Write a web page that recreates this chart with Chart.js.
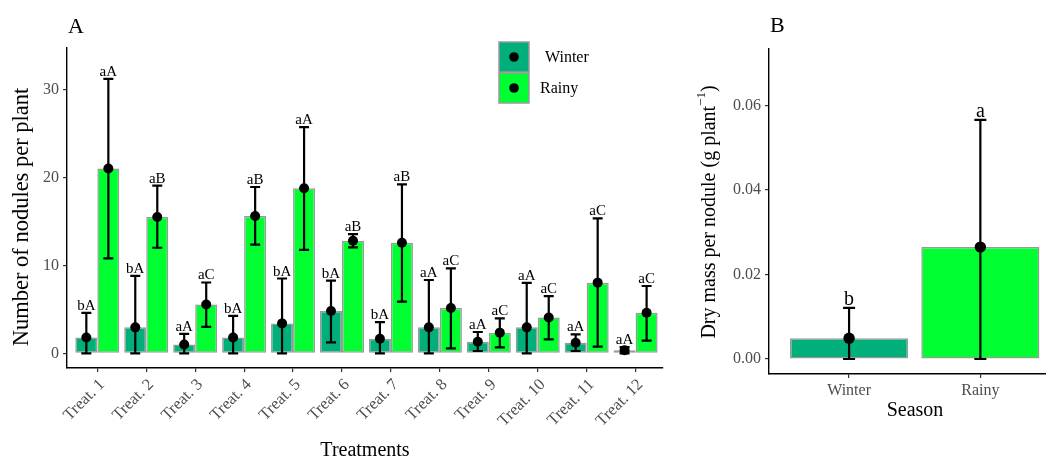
<!DOCTYPE html>
<html>
<head>
<meta charset="utf-8">
<script src="https://cdn.jsdelivr.net/npm/chart.js@4.4.0/dist/chart.umd.min.js"></script>
<style>
  html, body { margin: 0; padding: 0; background: #fff; }
  #wrap { position: relative; width: 1046px; height: 459px; overflow: hidden; }
  #chart-a { position: absolute; left: 0; top: 0; }
  #chart-b { position: absolute; left: 690px; top: 0; }
</style>
</head>
<body>
<div id="wrap">
  <canvas id="chart-a" width="690" height="459"></canvas>
  <canvas id="chart-b" width="356" height="459"></canvas>
</div>
<script>
// panel A - nodules per plant
const treatments = ["Treat. 1", "Treat. 2", "Treat. 3", "Treat. 4", "Treat. 5", "Treat. 6",
                    "Treat. 7", "Treat. 8", "Treat. 9", "Treat. 10", "Treat. 11", "Treat. 12"];
const winterMean = [1.8, 2.95, 1.0, 1.8, 3.4, 4.8, 1.65, 2.95, 1.32, 2.95, 1.2, 0.35];
const winterLow  = [0, 0, 0, 0, 0, 1.25, 0, 0, 0.26, 0, 0.26, 0];
const winterHigh = [4.6, 8.8, 2.2, 4.25, 8.5, 8.25, 3.55, 8.33, 2.42, 8.0, 2.15, 0.7];
const rainyMean  = [21.0, 15.5, 5.55, 15.6, 18.75, 12.8, 12.57, 5.15, 2.35, 4.07, 8.03, 4.6];
const rainyLow   = [10.8, 12.0, 3.0, 12.35, 11.75, 12.05, 5.87, 0.55, 0.68, 1.58, 0.75, 1.43];
const rainyHigh  = [31.2, 19.05, 8.05, 18.9, 25.7, 13.55, 19.2, 9.65, 3.97, 6.5, 15.33, 7.65];
const winterLetters = ["bA", "bA", "aA", "bA", "bA", "bA", "bA", "aA", "aA", "aA", "aA", "aA"];
const rainyLetters  = ["aA", "aB", "aC", "aB", "aA", "aB", "aB", "aC", "aC", "aC", "aC", "aC"];
const yTicksA = [0, 10, 20, 30];

// panel B - dry mass per nodule
const seasons = ["Winter", "Rainy"];
const massMean = [0.0049, 0.0265];
const massLow  = [0, 0];
const massHigh = [0.0121, 0.0566];
const massLetters = ["b", "a"];
const yTicksB = [0, 0.02, 0.04, 0.06];

const serif = "'Liberation Serif', 'Times New Roman', serif";
const winterColor = "#00AF7A";
const rainyColor = "#00FF30";
const outline = "#9A9A9A";
const tickGrey = "#4D4D4D";

// error bars, mean points and letters on top of the bars
function errorBars(lows, highs, letters, cap, radius) {
  return {
    id: "errorBars",
    afterDatasetsDraw(chart) {
      const ctx = chart.ctx;
      const y = chart.scales.y;
      chart.data.datasets.forEach((ds, d) => {
        chart.getDatasetMeta(d).data.forEach((bar, i) => {
          const yl = y.getPixelForValue(lows[d][i]);
          const yh = y.getPixelForValue(highs[d][i]);
          ctx.save();
          ctx.strokeStyle = "#000";
          ctx.lineWidth = 2.2;
          ctx.beginPath();
          ctx.moveTo(bar.x, yl); ctx.lineTo(bar.x, yh);
          ctx.moveTo(bar.x - cap, yl); ctx.lineTo(bar.x + cap, yl);
          ctx.moveTo(bar.x - cap, yh); ctx.lineTo(bar.x + cap, yh);
          ctx.stroke();
          ctx.fillStyle = "#000";
          ctx.beginPath();
          ctx.arc(bar.x, bar.y, radius, 0, Math.PI * 2);
          ctx.fill();
          ctx.font = letters.size + "px " + serif;
          ctx.textAlign = "center";
          ctx.textBaseline = "alphabetic";
          ctx.fillText(letters.text[d][i], bar.x, yh - letters.gap);
          ctx.restore();
        });
      });
    }
  };
}

const decorA = {
  id: "decorA",
  afterDraw(chart) {
    const ctx = chart.ctx;
    ctx.save();
    ctx.fillStyle = "#000";
    ctx.font = "22px " + serif;
    ctx.textAlign = "left";
    ctx.textBaseline = "alphabetic";
    ctx.fillText("A", 68, 33);

    ctx.font = "20px " + serif;
    ctx.textAlign = "center";
    ctx.textBaseline = "middle";
    ctx.fillText("Treatments", 365, 451);
    ctx.save();
    ctx.translate(22, 217);
    ctx.rotate(-Math.PI / 2);
    ctx.font = "22.5px " + serif;
    ctx.fillText("Number of nodules per plant", 0, 0);
    ctx.restore();

    // legend
    const items = [["Winter", winterColor, 42, 545], ["Rainy", rainyColor, 73, 540]];
    items.forEach(([label, color, top, tx]) => {
      ctx.fillStyle = color;
      ctx.fillRect(499, top, 30, 30);
      ctx.strokeStyle = outline;
      ctx.lineWidth = 1.5;
      ctx.strokeRect(499, top, 30, 30);
      ctx.fillStyle = "#000";
      ctx.beginPath();
      ctx.arc(514, top + 15, 4.8, 0, Math.PI * 2);
      ctx.fill();
      ctx.font = "16px " + serif;
      ctx.textAlign = "left";
      ctx.fillText(label, tx, top + 16);
    });
    ctx.restore();
  }
};

const decorB = {
  id: "decorB",
  afterDraw(chart) {
    const ctx = chart.ctx;
    ctx.save();
    ctx.fillStyle = "#000";
    ctx.font = "22px " + serif;
    ctx.textBaseline = "alphabetic";
    ctx.fillText("B", 80, 32);

    ctx.font = "20px " + serif;
    ctx.textAlign = "center";
    ctx.textBaseline = "middle";
    ctx.fillText("Season", 225, 411);

    ctx.translate(20, 212);
    ctx.rotate(-Math.PI / 2);
    const main = "Dry mass per nodule (g plant";
    const sup = "\u22121";
    ctx.font = "20px " + serif;
    const wMain = ctx.measureText(main).width;
    const wEnd = ctx.measureText(")").width;
    ctx.font = "13px " + serif;
    const wSup = ctx.measureText(sup).width;
    let x = -(wMain + wSup + wEnd) / 2;
    ctx.textAlign = "left";
    ctx.font = "20px " + serif;
    ctx.fillText(main, x, 0);
    x += wMain;
    ctx.font = "13px " + serif;
    ctx.fillText(sup, x, -8);
    x += wSup;
    ctx.font = "20px " + serif;
    ctx.fillText(")", x, 0);
    ctx.restore();
  }
};

function axisStyle() {
  return {
    offset: false,
    grid: { display: true, offset: false, drawOnChartArea: false, drawTicks: true, tickLength: 4, color: "#333", lineWidth: 1.2 },
    border: { display: true, color: "#000", width: 1.4 }
  };
}

new Chart(document.getElementById("chart-a"), {
  type: "bar",
  data: {
    datasets: [{
      label: "Winter",
      data: winterMean.map((v, i) => ({ x: i, y: v })),
      backgroundColor: winterColor,
      borderColor: outline,
      borderWidth: 1.5,
      borderSkipped: false
    }, {
      label: "Rainy",
      data: rainyMean.map((v, i) => ({ x: i, y: v })),
      backgroundColor: rainyColor,
      borderColor: outline,
      borderWidth: 1.5,
      borderSkipped: false
    }]
  },
  options: {
    responsive: false,
    animation: false,
    categoryPercentage: 0.9,
    barPercentage: 1.0,
    layout: { padding: { top: 48, right: 27, left: 0, bottom: 0 } },
    plugins: { legend: { display: false }, tooltip: { enabled: false } },
    scales: {
      x: Object.assign(axisStyle(), {
        type: "linear",
        min: -0.62,
        max: 11.56,
        afterBuildTicks: s => { s.ticks = treatments.map((t, i) => ({ value: i })); },
        afterFit: s => { s.height = 91; },
        ticks: {
          autoSkip: false,
          minRotation: 45,
          maxRotation: 45,
          padding: 3,
          labelOffset: 5,
          color: tickGrey,
          font: { family: serif, size: 16.5 },
          callback: v => treatments[v]
        }
      }),
      y: Object.assign(axisStyle(), {
        min: -1.67,
        max: 34.7,
        afterBuildTicks: s => { s.ticks = yTicksA.map(v => ({ value: v })); },
        afterFit: s => { s.width = 67; },
        ticks: { padding: 4, color: tickGrey, font: { family: serif, size: 16 } }
      })
    }
  },
  plugins: [
    errorBars([winterLow, rainyLow], [winterHigh, rainyHigh],
              { text: [winterLetters, rainyLetters], size: 15, gap: 3 }, 5, 5),
    decorA
  ]
});

new Chart(document.getElementById("chart-b"), {
  type: "bar",
  data: {
    datasets: [{
      label: "Dry mass",
      data: massMean.map((v, i) => ({ x: i, y: v })),
      backgroundColor: [winterColor, rainyColor],
      borderColor: outline,
      borderWidth: 1.5,
      borderSkipped: false
    }]
  },
  options: {
    responsive: false,
    animation: false,
    categoryPercentage: 0.9,
    barPercentage: 1.0,
    layout: { padding: { top: 49, right: 0, left: 0, bottom: 0 } },
    plugins: { legend: { display: false }, tooltip: { enabled: false } },
    scales: {
      x: Object.assign(axisStyle(), {
        type: "linear",
        min: -0.61,
        max: 1.5,
        afterBuildTicks: s => { s.ticks = seasons.map((t, i) => ({ value: i })); },
        afterFit: s => { s.height = 85; },
        ticks: {
          autoSkip: false,
          maxRotation: 0,
          padding: 3,
          color: tickGrey,
          font: { family: serif, size: 16 },
          callback: v => seasons[v]
        }
      }),
      y: Object.assign(axisStyle(), {
        min: -0.00355,
        max: 0.0734,
        afterBuildTicks: s => { s.ticks = yTicksB.map(v => ({ value: v })); },
        afterFit: s => { s.width = 79; },
        ticks: {
          padding: 4,
          color: tickGrey,
          font: { family: serif, size: 16 },
          callback: v => v.toFixed(2)
        }
      })
    }
  },
  plugins: [
    errorBars([massLow], [massHigh], { text: [massLetters], size: 20, gap: 3 }, 6, 5.7),
    decorB
  ]
});
</script>
</body>
</html>
